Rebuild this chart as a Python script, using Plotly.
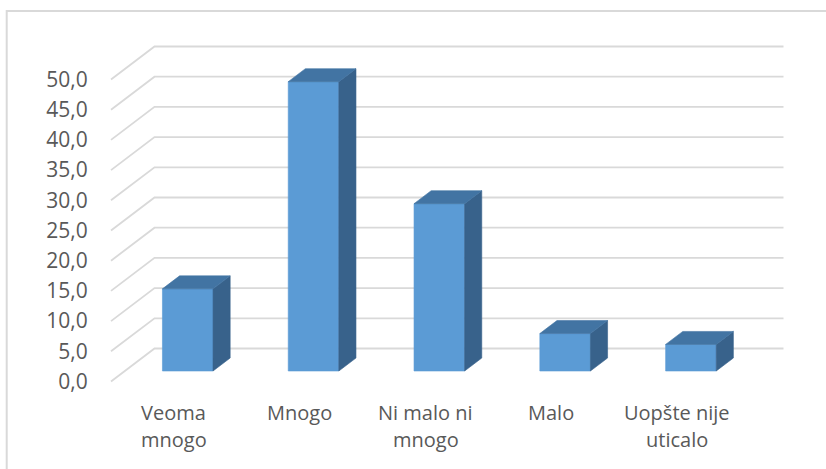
import plotly.graph_objects as go

# Survey answers (percent of respondents)
categories = ["Veoma<br>mnogo", "Mnogo", "Ni malo ni<br>mnogo", "Malo", "Uopšte nije<br>uticalo"]
values = [13.6, 47.9, 27.7, 6.2, 4.4]
tick_values = [0, 5, 10, 15, 20, 25, 30, 35, 40, 45, 50]
tick_labels = ["0,0", "5,0", "10,0", "15,0", "20,0", "25,0", "30,0", "35,0", "40,0", "45,0", "50,0"]

W, H = 826, 469
ML = 100                      # left margin holding the value labels
CAT_PX = 125.8                # pixels per category slot
VAL_PX = 6.04                 # pixels per percentage point
X0_PX = 173.9                 # pixel x of the first category centre (front plane)
Y0_PX = 381.5                 # pixel y of value 0 (front plane)

# oblique depth of the floor/wall, expressed in data units
DX = 43.5 / CAT_PX
DY = 33.0 / VAL_PX
FRONT = 0.318                 # depth of the bar front faces
DEPTH = 0.394                 # depth of the bars themselves
HW = 25.3 / CAT_PX            # half bar width

FRONT_C = "#5B9BD5"
TOP_C = "#4274A3"
SIDE_C = "#38628B"
GRID_C = "#D9D9D9"
TEXT_C = "#595959"

n = len(values)
fig = go.Figure()

# back wall and side wall gridlines
gx, gy = [], []
for v in tick_values:
    gx += [-0.5, -0.5 + DX, n - 0.5 + DX, None]
    gy += [v, v + DY, v + DY, None]
fig.add_trace(go.Scatter(x=gx, y=gy, mode="lines", hoverinfo="skip",
                         line=dict(color=GRID_C, width=1.8)))

fx, fy = FRONT * DX, FRONT * DY
bx, by = DEPTH * DX, DEPTH * DY


def face(xs, ys, color):
    fig.add_trace(go.Scatter(x=xs + [xs[0]], y=ys + [ys[0]], mode="lines",
                             fill="toself", fillcolor=color,
                             line=dict(color=color, width=0.6),
                             hoverinfo="skip"))


for i, v in enumerate(values):
    l, r = i + fx - HW, i + fx + HW
    b, t = fy, v + fy
    face([l, r, r, l], [b, b, t, t], FRONT_C)
    face([r, r + bx, r + bx, r], [b, b + by, t + by, t], SIDE_C)
    face([l, r, r + bx, l + bx], [t, t, t + by, t + by], TOP_C)

# category labels, one annotation per text line
annotations = []
for i, cat in enumerate(categories):
    for k, line in enumerate(cat.split("<br>")):
        py = 412.5 + 27 * k
        annotations.append(dict(x=i, y=(H - py) / H, xref="x", yref="paper",
                                text=line, showarrow=False, xanchor="center",
                                yanchor="middle",
                                font=dict(family="Open Sans", size=20, color=TEXT_C)))


def px_x(p):
    return (p - ML) / (W - ML)


def px_y(p):
    return (H - p) / H


# chart frame
shapes = [dict(type="rect", xref="paper", yref="paper",
               x0=px_x(6.7), x1=px_x(W + 5), y0=px_y(11), y1=px_y(H + 5),
               line=dict(color=GRID_C, width=2), fillcolor="rgba(0,0,0,0)")]

fig.update_layout(
    width=W, height=H,
    margin=dict(l=ML, r=0, t=0, b=0),
    paper_bgcolor="white", plot_bgcolor="white",
    showlegend=False,
    annotations=annotations,
    shapes=shapes,
    xaxis=dict(range=[(ML - X0_PX) / CAT_PX, (W - X0_PX) / CAT_PX],
               visible=False, fixedrange=True),
    yaxis=dict(range=[(Y0_PX - H) / VAL_PX, Y0_PX / VAL_PX],
               tickvals=tick_values, ticktext=tick_labels,
               showgrid=False, zeroline=False, showline=False,
               ticks="outside", ticklen=7, tickcolor="rgba(0,0,0,0)",
               tickfont=dict(family="Open Sans", size=21, color=TEXT_C),
               fixedrange=True),
)

fig.write_html("out.html")
